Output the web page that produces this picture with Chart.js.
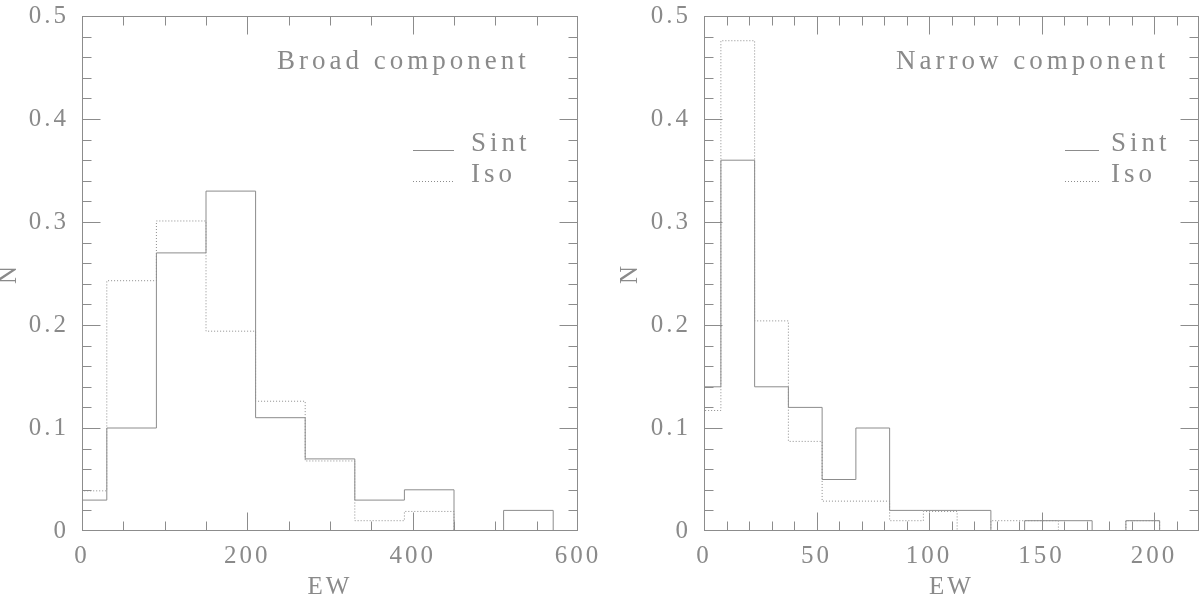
<!DOCTYPE html>
<html>
<head>
<meta charset="utf-8">
<script src="https://cdn.jsdelivr.net/npm/chart.js"></script>
<style>
  html, body { margin: 0; padding: 0; background: #fff; }
  #wrap { position: relative; width: 1200px; height: 595px; }
  canvas { position: absolute; top: 0; }
  #broad { left: 0; }
  #narrow { left: 600px; }
</style>
</head>
<body>
<div id="wrap">
  <canvas id="broad" width="600" height="595"></canvas>
  <canvas id="narrow" width="600" height="595"></canvas>
</div>
<script>
// broad component, bins 60 wide centred on these EW values
const broadCenters = [0, 60, 120, 180, 240, 300, 360, 420, 480, 540];
const broadSint = [0.03, 0.10, 0.27, 0.33, 0.11, 0.07, 0.03, 0.04, 0, 0.02];
const broadIso = [0.039, 0.243, 0.301, 0.194, 0.126, 0.068, 0.010, 0.019, 0, 0];
const broadWidth = 60;

// narrow component, bins 15 wide
const narrowCenters = [0, 15, 30, 45, 60, 75, 90, 105, 120, 135, 150, 165, 180, 195];
const narrowSint = [0.14, 0.36, 0.14, 0.12, 0.05, 0.10, 0.02, 0.02, 0.02, 0, 0.01, 0.01, 0, 0.01];
const narrowIso = [0.117, 0.476, 0.204, 0.087, 0.029, 0.029, 0.010, 0.019, 0, 0.010, 0.010, 0, 0, 0.010];
const narrowWidth = 15;

const yTickLabels = ['0', '0.1', '0.2', '0.3', '0.4', '0.5'];
const broadXTickLabels = ['0', '200', '400', '600'];
const narrowXTickLabels = ['0', '50', '100', '150', '200'];

const INK = '#8a8a8a';
const LINE = '#8c8c8c';
const FONT = "'Liberation Serif', 'DejaVu Serif', serif";

Chart.defaults.font.family = FONT;
Chart.defaults.color = INK;

function steps(centers, values, width) {
  const pts = centers.map((c, i) => ({ x: c - width / 2, y: values[i] }));
  const end = centers[centers.length - 1] + width / 2;
  pts.push({ x: end, y: values[values.length - 1] });
  pts.push({ x: end, y: 0 });
  return pts;
}

function labelFrom(list) {
  return function (v) {
    const hit = list.find(s => Math.abs(parseFloat(s) - v) < 1e-6);
    return hit === undefined ? '' : hit;
  };
}

// box, inward ticks on all four sides, panel text and legend
const frame = {
  id: 'frame',
  beforeDraw(chart) {
    chart.ctx.letterSpacing = '3px';
  },
  afterDraw(chart, args, o) {
    const { ctx, chartArea: a, scales } = chart;
    const L = Math.round(a.left) + 0.5, R = Math.round(a.right) - 0.5;
    const T = Math.round(a.top) + 0.5, B = Math.round(a.bottom) - 0.5;
    ctx.save();
    ctx.strokeStyle = LINE;
    ctx.lineWidth = 1;
    ctx.setLineDash([]);
    ctx.strokeRect(L, T, R - L, B - T);
    ctx.beginPath();
    scales.x.ticks.forEach(t => {
      const px = Math.round(scales.x.getPixelForValue(t.value)) + 0.5;
      if (px <= L + 1 || px >= R - 1) return;
      const len = t.label ? 18 : 9;
      ctx.moveTo(px, B); ctx.lineTo(px, B - len);
      ctx.moveTo(px, T); ctx.lineTo(px, T + len);
    });
    scales.y.ticks.forEach(t => {
      const py = Math.round(scales.y.getPixelForValue(t.value)) + 0.5;
      if (py <= T + 1 || py >= B - 1) return;
      const len = t.label ? 18 : 9;
      ctx.moveTo(L, py); ctx.lineTo(L + len, py);
      ctx.moveTo(R, py); ctx.lineTo(R - len, py);
    });
    ctx.stroke();

    ctx.fillStyle = INK;
    ctx.font = '27px ' + FONT;
    ctx.textBaseline = 'alphabetic';
    ctx.textAlign = 'left';
    ctx.letterSpacing = '4px';
    ctx.fillText(o.title, a.left + o.titleX, a.top + 53);
    ctx.fillText('Sint', a.left + o.textX, a.top + 135);
    ctx.fillText('Iso', a.left + o.textX, a.top + 166);

    ctx.beginPath();
    ctx.moveTo(a.left + o.line[0], a.top + 134.5);
    ctx.lineTo(a.left + o.line[1], a.top + 134.5);
    ctx.stroke();
    ctx.setLineDash([1, 2]);
    ctx.beginPath();
    ctx.moveTo(a.left + o.line[0], a.top + 165.5);
    ctx.lineTo(a.left + o.line[1], a.top + 165.5);
    ctx.stroke();
    ctx.restore();
  }
};

function makePanel(id, centers, sint, iso, width, xMax, xStep, xLabels, pad, yWidth, frameOpts) {
  return new Chart(document.getElementById(id), {
    type: 'line',
    data: {
      datasets: [
        {
          label: 'Iso',
          data: steps(centers, iso, width),
          stepped: 'before',
          borderColor: LINE,
          borderWidth: 1,
          borderDash: [1, 2],
          pointRadius: 0,
          fill: false
        },
        {
          label: 'Sint',
          data: steps(centers, sint, width),
          stepped: 'before',
          borderColor: LINE,
          borderWidth: 1,
          pointRadius: 0,
          fill: false
        }
      ]
    },
    options: {
      responsive: false,
      animation: false,
      devicePixelRatio: 1,
      layout: { padding: pad },
      plugins: {
        legend: { display: false },
        tooltip: { enabled: false },
        frame: frameOpts
      },
      scales: {
        x: {
          type: 'linear',
          min: 0,
          max: xMax,
          grid: { display: false, drawTicks: false },
          border: { display: false },
          ticks: {
            stepSize: xStep,
            autoSkip: false,
            maxRotation: 0,
            padding: 10,
            font: { size: 25 },
            callback: labelFrom(xLabels)
          },
          title: {
            display: true,
            text: 'EW',
            font: { size: 25, lineHeight: 1 },
            padding: { top: 0, bottom: -5 }
          },
          afterFit(s) {
            s.height = 64;
            s.paddingLeft = 0; s.paddingRight = 0;
          }
        },
        y: {
          type: 'linear',
          min: 0,
          max: 0.5,
          grid: { display: false, drawTicks: false },
          border: { display: false },
          ticks: {
            stepSize: 0.02,
            autoSkip: false,
            padding: 13,
            font: { size: 25 },
            callback: labelFrom(yTickLabels)
          },
          title: {
            display: true,
            text: 'N',
            font: { size: 25, lineHeight: 1 },
            padding: { top: -3.5, bottom: 0 }
          },
          afterFit(s) {
            s.width = yWidth;
            s.paddingTop = 0; s.paddingBottom = 0;
          }
        }
      }
    },
    plugins: [frame]
  });
}

makePanel('broad', broadCenters, broadSint, broadIso, broadWidth, 600, 50, broadXTickLabels,
  { left: 0, right: 22, top: 16, bottom: 0 }, 82,
  { title: 'Broad component', titleX: 195, textX: 389, line: [331, 372] });

makePanel('narrow', narrowCenters, narrowSint, narrowIso, narrowWidth, 220, 10, narrowXTickLabels,
  { left: 21, right: 1, top: 16, bottom: 0 }, 83,
  { title: 'Narrow component', titleX: 192, textX: 407, line: [361, 395] });
</script>
</body>
</html>
